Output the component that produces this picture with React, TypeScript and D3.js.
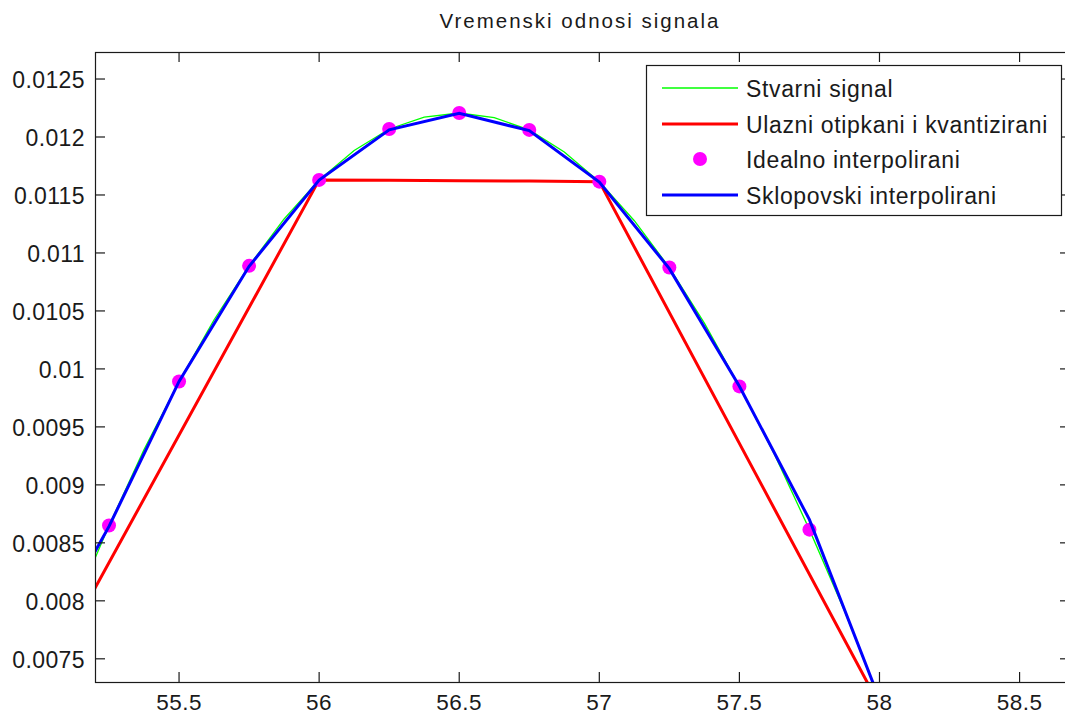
import React from "react";
import * as d3 from "d3";

const title = "Vremenski odnosi signala";

// Stvarni signal (true signal)
const greenX = [55.0, 55.125, 55.25, 55.375, 55.5, 55.625, 55.75, 55.875, 56.0, 56.125, 56.25, 56.375, 56.5, 56.625, 56.75, 56.875, 57.0, 57.125, 57.25, 57.375, 57.5, 57.625, 57.75, 57.875, 58.0];
const greenY = [0.00717, 0.007943, 0.008649, 0.009304, 0.009892, 0.010424, 0.010889, 0.011293, 0.01163, 0.011883, 0.012069, 0.012171, 0.012207, 0.012167, 0.012061, 0.011871, 0.011615, 0.011278, 0.010874, 0.010395, 0.009849, 0.009265, 0.008614, 0.007915, 0.00715];

// Ulazni otipkani i kvantizirani (sampled & quantized input)
const redX = [55.0, 56.0, 56.25, 56.5, 56.75, 57.0, 58.0];
const redY = [0.00723, 0.01163, 0.011628, 0.011622, 0.01162, 0.011615, 0.0071];

// Idealno interpolirani (markers)
const magX = [55.25, 55.5, 55.75, 56.0, 56.25, 56.5, 56.75, 57.0, 57.25, 57.5, 57.75];
const magY = [0.008649, 0.009892, 0.010889, 0.01163, 0.012069, 0.012207, 0.012061, 0.011615, 0.010874, 0.009849, 0.008614];

// Sklopovski interpolirani (hardware interpolated)
const blueX = [55.0, 55.25, 55.5, 55.75, 56.0, 56.25, 56.5, 56.75, 57.0, 57.25, 57.5, 57.75, 58.0];
const blueY = [0.00755, 0.008642, 0.009892, 0.010885, 0.011628, 0.012062, 0.012205, 0.012055, 0.011612, 0.010865, 0.00985, 0.0087, 0.00715];

const xTicks = [55.5, 56, 56.5, 57, 57.5, 58, 58.5];
const xTickLabels = ["55.5", "56", "56.5", "57", "57.5", "58", "58.5"];
const yTicks = [0.0075, 0.008, 0.0085, 0.009, 0.0095, 0.01, 0.0105, 0.011, 0.0115, 0.012, 0.0125];
const yTickLabels = ["0.0075", "0.008", "0.0085", "0.009", "0.0095", "0.01", "0.0105", "0.011", "0.0115", "0.012", "0.0125"];

const legendLabels = ["Stvarni signal", "Ulazni otipkani i kvantizirani", "Idealno interpolirani", "Sklopovski interpolirani"];

const W = 1065;
const H = 716;
const L = 95;
const R = 1070;
const T = 52;
const B = 682;
const FONT = "'Liberation Sans', Arial, sans-serif";
const INK = "#1a1a1a";

export default function App() {
  const x = d3.scaleLinear().domain([55.2, 58.68]).range([L, R]);
  const y = d3.scaleLinear().domain([0.0073, 0.012733]).range([B, T]);
  const line = d3
    .line<[number, number]>()
    .x((d) => x(d[0]))
    .y((d) => y(d[1]));
  const zip = (xs: number[], ys: number[]) => xs.map((v, i) => [v, ys[i]] as [number, number]);
  const tick = 10;

  return (
    <svg
      width={W}
      height={H}
      style={{ position: "absolute", left: 0, top: 0, background: "#fff" }}
      fontFamily={FONT}
    >
      <rect x={0} y={0} width={W} height={H} fill="#fff" />
      <defs>
        <clipPath id="plotclip">
          <rect x={L} y={T} width={R - L} height={B - T} />
        </clipPath>
      </defs>

      <text x={580} y={28} textAnchor="middle" fontSize={20.5} letterSpacing={2} fill={INK}>
        {title}
      </text>

      <g clipPath="url(#plotclip)">
        <path d={line(zip(greenX, greenY)) || ""} fill="none" stroke="#00ff00" strokeWidth={1.3} />
        <path d={line(zip(redX, redY)) || ""} fill="none" stroke="#ff0000" strokeWidth={3} />
        {magX.map((v, i) => (
          <circle key={i} cx={x(v)} cy={y(magY[i])} r={7} fill="#ff00ff" />
        ))}
        <path d={line(zip(blueX, blueY)) || ""} fill="none" stroke="#0000ff" strokeWidth={3} />
      </g>

      {/* axes box */}
      <rect x={L + 0.5} y={T + 0.5} width={R - L} height={B - T} fill="none" stroke={INK} strokeWidth={1.2} />

      {xTicks.map((t, i) => (
        <g key={"x" + i}>
          <line x1={x(t)} x2={x(t)} y1={B} y2={B - tick} stroke={INK} strokeWidth={1.2} />
          <line x1={x(t)} x2={x(t)} y1={T} y2={T + tick} stroke={INK} strokeWidth={1.2} />
          <text x={x(t)} y={710} textAnchor="middle" fontSize={22.5} letterSpacing={0.5} fill={INK}>
            {xTickLabels[i]}
          </text>
        </g>
      ))}
      {yTicks.map((t, i) => (
        <g key={"y" + i}>
          <line x1={L} x2={L + tick} y1={y(t)} y2={y(t)} stroke={INK} strokeWidth={1.2} />
          <line x1={R} x2={R - tick} y1={y(t)} y2={y(t)} stroke={INK} strokeWidth={1.2} />
          <text x={85} y={y(t) + 9} textAnchor="end" fontSize={23} letterSpacing={0.4} fill={INK}>
            {yTickLabels[i]}
          </text>
        </g>
      ))}

      {/* legend */}
      <g>
        <rect x={646.5} y={65.5} width={415} height={150} fill="#fff" stroke={INK} strokeWidth={1.2} />
        {legendLabels.map((lab, i) => {
          const cy = [88, 124, 159, 195][i];
          return (
            <g key={"l" + i}>
              {i === 0 && <line x1={662} x2={738} y1={cy} y2={cy} stroke="#00ff00" strokeWidth={1.3} />}
              {i === 1 && <line x1={662} x2={738} y1={cy} y2={cy} stroke="#ff0000" strokeWidth={3} />}
              {i === 2 && <circle cx={700} cy={cy} r={7} fill="#ff00ff" />}
              {i === 3 && <line x1={662} x2={738} y1={cy} y2={cy} stroke="#0000ff" strokeWidth={3} />}
              <text x={746} y={cy + 8.5} fontSize={23} letterSpacing={0.65} fill={INK}>
                {lab}
              </text>
            </g>
          );
        })}
      </g>
    </svg>
  );
}
